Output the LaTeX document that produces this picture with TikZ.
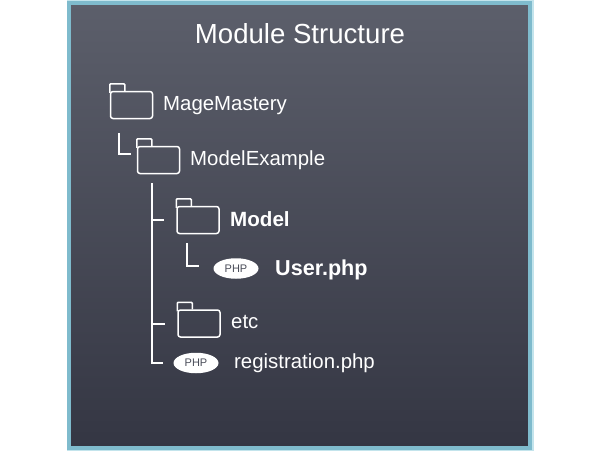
\documentclass[tikz,border=0pt]{standalone}
\usepackage{fontspec}
\usetikzlibrary{shapes.geometric}
\setmainfont{Liberation Sans}
\definecolor{panelborder}{HTML}{7FBBCD}
\definecolor{panelglow}{HTML}{C3E4EC}
\definecolor{paneltop}{HTML}{5C5F6B}
\definecolor{panelbottom}{HTML}{343643}
\definecolor{phptext}{HTML}{4A4D59}
\begin{document}
\begin{tikzpicture}[x=1pt,y=-1pt]
\tikzstyle{panel}=[minimum width=461pt, minimum height=445.5pt, inner sep=0pt, top color=paneltop, bottom color=panelbottom, draw=panelborder, line width=4pt]% fondo
\tikzstyle{folder}=[draw=white, line width=1.5pt, rounded corners=2.5pt, minimum width=42pt, minimum height=27pt, inner sep=0pt]% carpeta
\tikzstyle{foldertab}=[draw=white, line width=1.5pt, rounded corners=1pt]% pestana de carpeta
\tikzstyle{phpfile}=[ellipse, fill=white, minimum width=45pt, minimum height=20.5pt, inner sep=0pt, text=phptext, font=\fontsize{11}{12}\selectfont]% archivo php
\tikzstyle{itemtext}=[anchor=west, inner sep=0pt, text=white, font=\fontsize{20.4}{24}\selectfont]% texto
\tikzstyle{bolditem}=[itemtext, font=\fontsize{20.6}{24}\selectfont\bfseries]% texto resaltado
\tikzstyle{branch}=[draw=white, line width=2pt]% conexion del arbol
\useasboundingbox (0,0) rectangle (600,451);
\fill[panelglow] (66.5,0) rectangle (533.5,451);
\node[panel] (back) at (299.5,225.25) {};
\node[text=white, font=\fontsize{27.6}{32}\selectfont] (title) at (300,34) {Module Structure};
\node[folder] (mage) at (131.5,105) {};%raiz
\node[folder] (modelex) at (158.5,160) {};
\node[folder] (model) at (198,220) {};
\node[folder] (etc) at (199,323.5) {};
\foreach \f in {mage,modelex,model,etc}
\draw[foldertab] ([yshift=-2pt]\f.north west) -- ++(0,-9) -- ++(15,0) -- ++(0,7);
\node[phpfile] (user) at (236,268.5) {PHP};
\node[phpfile] (registration) at (196,363) {PHP};
\node[itemtext] (magetext) at (163,105.5) {MageMastery};
\node[itemtext] (modelextext) at (190,160) {ModelExample};
\node[bolditem] (modeltext) at (230,219) {Model};
\node[bolditem, font=\fontsize{21.6}{26}\selectfont\bfseries] (usertext) at (275,269.5) {User.php};
\node[itemtext] (etctext) at (231,322) {etc};
\node[itemtext] (registrationtext) at (234,363) {registration.php};
\coordinate (trunktop) at (152,183);
\draw[branch] ([shift={(9,14)}]mage.south west) |- ([shift={(-6,-6)}]modelex.west);
\draw[branch] (trunktop) |- ([xshift=-10pt]registration.west);
\draw[branch] (trunktop |- model.west) -- ([xshift=-12pt]model.west);
\draw[branch] (trunktop |- etc.west) -- ([xshift=-12pt]etc.west);
\draw[branch] ([shift={(11,9)}]model.south west) |- ([shift={(-14,-3)}]user.west);
\end{tikzpicture}
\end{document}
